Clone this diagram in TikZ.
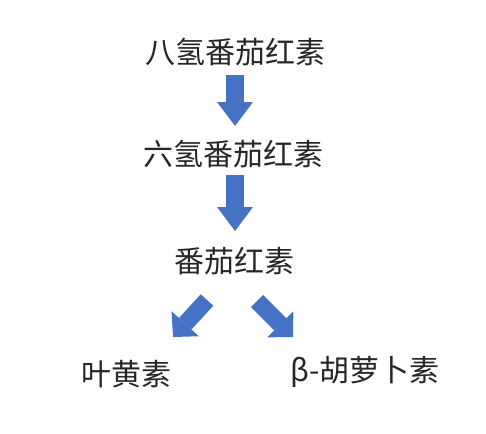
\documentclass[tikz,border=0pt]{standalone}
\usepackage{fontspec}
\setmainfont{Noto Sans CJK SC}
\usetikzlibrary{arrows.meta}
\definecolor{flowblue}{HTML}{4472C4}
\tikzstyle{pigment}=[font=\fontsize{30}{36}\selectfont,text=black!85,inner sep=0pt]
\tikzstyle{flow}=[draw=flowblue,line width=18pt,-{Triangle[length=24pt,width=36pt,line width=0pt]}]
\tikzstyle{flowdiag}=[draw=flowblue,line width=17pt,-{Triangle[length=18pt,width=37pt,line width=0pt]}]

\begin{document}
\begin{tikzpicture}[x=1pt,y=-1pt]
\useasboundingbox (0,0) rectangle (486,433);
\node[pigment] at (235, 52) (octa) {八氢番茄红素};
\node[pigment] at (233, 154) (hexa) {六氢番茄红素};
\node[pigment] at (234, 261) (lyco) {番茄红素};
\node[pigment] at (126, 374) (lutein) {叶黄素};
\node[pigment] at (365, 372) (carot) {β-胡萝卜素};
\draw[flow] ([shift={(0,23)}]octa.center) -- ([shift={(2,-28)}]hexa.center);
\draw[flow] ([shift={(2,21)}]hexa.center) -- ([shift={(1,-30)}]lyco.center);
\draw[flowdiag] ([shift={(-27,39)}]lyco.center) -- ([shift={(47,-37)}]lutein.center);
\draw[flowdiag] ([shift={(23,40)}]lyco.center) -- ([shift={(-72,-35)}]carot.center);
\end{tikzpicture}
\end{document}
